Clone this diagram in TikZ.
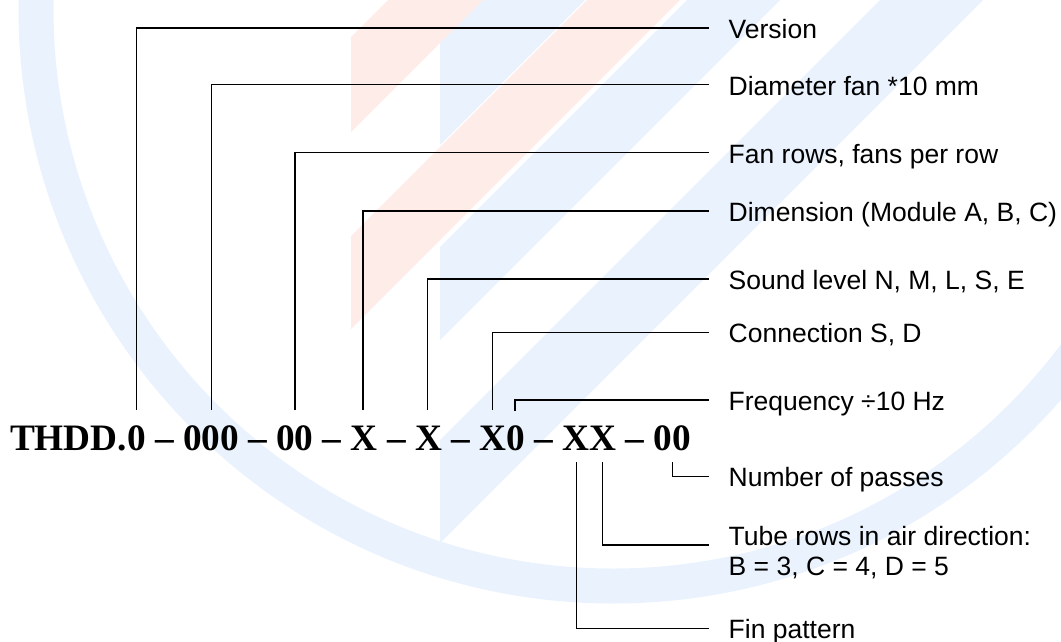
\documentclass[tikz,border=0pt]{standalone}
\usepackage{fontspec}
\setmainfont{Liberation Serif}
\newfontfamily\labelfont{Liberation Sans}
\usetikzlibrary{positioning}
\definecolor{logoblue}{RGB}{233,242,253}
\definecolor{logored}{RGB}{254,236,233}

\begin{document}
\begin{tikzpicture}[x=1pt, y=-1pt,
  every node/.style={inner sep=0pt, outer sep=0pt},
  code/.style={anchor=base west, font=\fontsize{37.3}{40}\selectfont\bfseries},
  lbl/.style={anchor=west, inner xsep=19.7pt, text height=21pt, text depth=0pt, font=\labelfont\fontsize{26.5}{30.6}\selectfont},
  lead/.style={line width=1.5pt}]
\useasboundingbox (0,0) rectangle (1061,641);

% faint logo in the back
\begin{scope}
\clip (0,0) rectangle (1061,641);
\draw[logoblue, line width=35pt] (613,9) circle[radius=577];
\fill[logoblue] (440,34) -- (440,145) -- (585,0) -- (474,0) -- cycle;
\fill[logoblue] (440,247) -- (440,340) -- (780,0) -- (687,0) -- cycle;
\fill[logoblue] (440,440) -- (440,543) -- (983,0) -- (880,0) -- cycle;
\fill[logored] (351,37) -- (351,132) -- (483,0) -- (388,0) -- cycle;
\fill[logored] (351,236) -- (351,329) -- (680,0) -- (587,0) -- cycle;
\end{scope}

\node[code] (code) at (10,450) {THDD.0 – 000 – 00 – X – X – X0 – XX – 00};

\node[lbl] (version) at (709,27.8) {Version};
\node[lbl] (diam) at (709,84.6) {Diameter fan *10 mm};
\node[lbl] (fanrows) at (709,152.5) {Fan rows, fans per row};
\node[lbl] (dim) at (709,211) {Dimension (Module A, B, C)};
\node[lbl] (sound) at (709,279.2) {Sound level N, M, L, S, E};
\node[lbl] (conn) at (709,332.4) {Connection S, D};
\node[lbl] (freq) at (709,400.2) {Frequency ÷10 Hz};
\node[lbl] (passes) at (709,476.3) {Number of passes};
\node[lbl, anchor=base west] (tube) at (709,545) {Tube rows in air direction:};
\node[lbl, anchor=base west] (tubeb) at (709,575.6) {B = 3, C = 4, D = 5};
\node[lbl] (fin) at (709,628.4) {Fin pattern};

\coordinate (cv) at (136.7,410);
\coordinate (cd) at (211.7,410);
\coordinate (cr) at (295.1,410);
\coordinate (cm) at (362.8,410);
\coordinate (cs) at (427.7,410);
\coordinate (cc) at (492.3,410);
\coordinate (cf) at (515.2,411);
\coordinate (cn) at (672.7,462);
\coordinate (ct) at (602.4,462);
\coordinate (cp) at (576.7,462);

\draw[lead] (cv) |- (version.west);
\draw[lead] (cd) |- (diam.west);
\draw[lead] (cr) |- (fanrows.west);
\draw[lead] (cm) |- (dim.west);
\draw[lead] (cs) |- (sound.west);
\draw[lead] (cc) |- (conn.west);
\draw[lead] (cf) |- (freq.west);
\draw[lead] (cn) |- (passes.west);
\draw[lead] (ct) |- (tube.base west);
\draw[lead] (cp) |- (fin.west);
\end{tikzpicture}
\end{document}
